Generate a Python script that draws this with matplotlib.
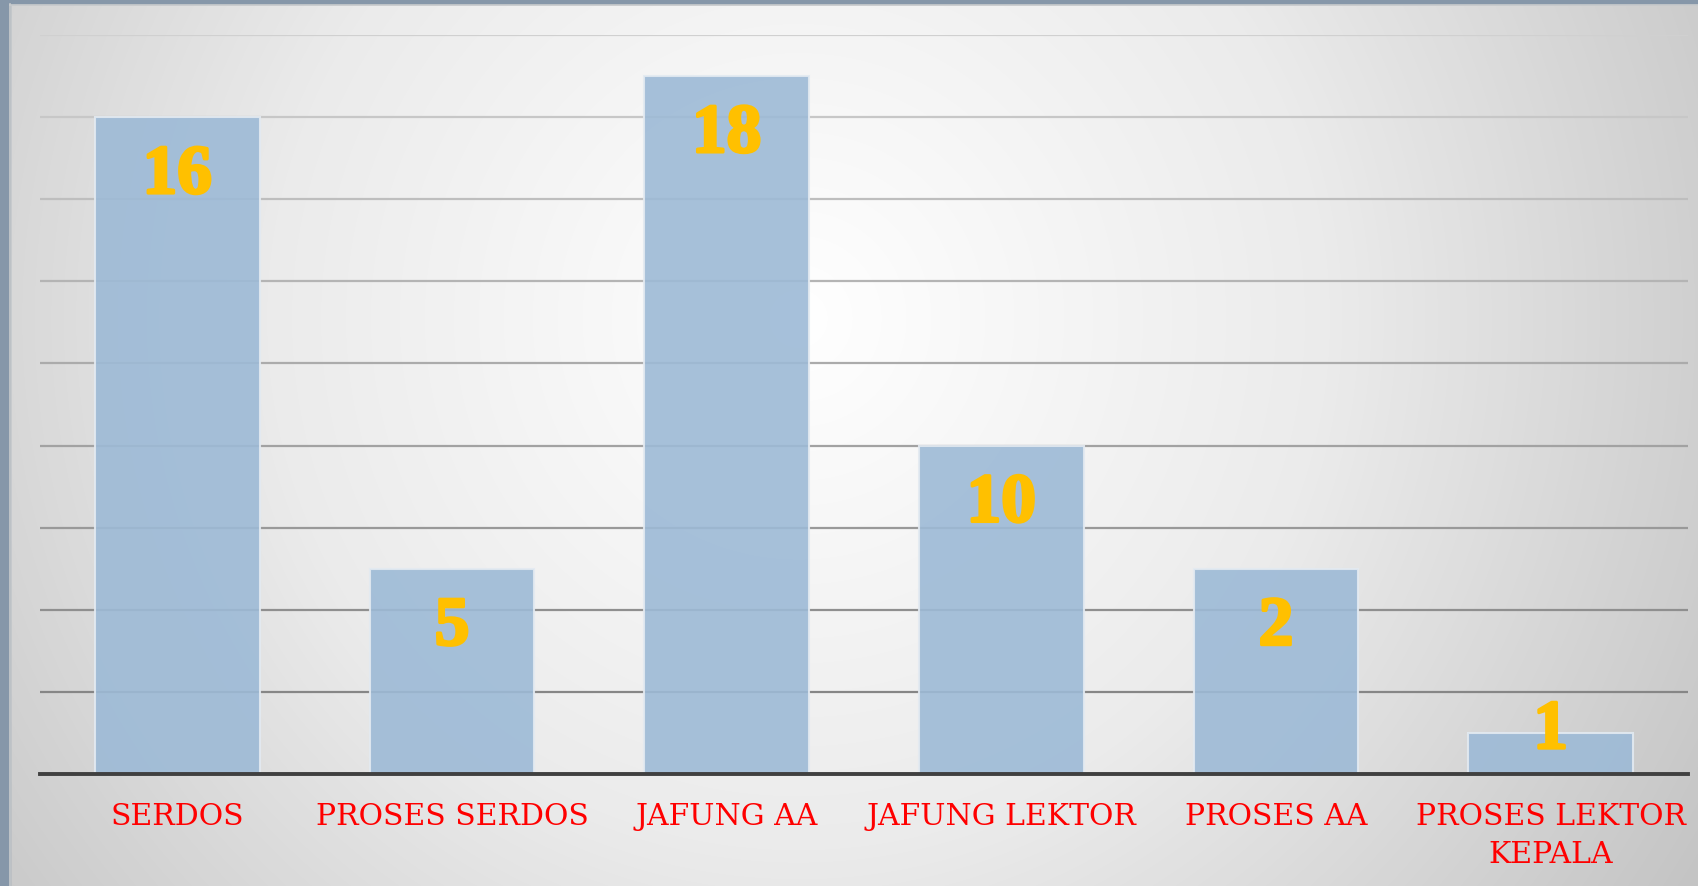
import numpy as np
import matplotlib

matplotlib.use("Agg")
import matplotlib.pyplot as plt
import matplotlib.patheffects as pe
from matplotlib.colors import LinearSegmentedColormap, to_rgb

categories = ["SERDOS", "PROSES SERDOS", "JAFUNG AA", "JAFUNG LEKTOR", "PROSES AA",
              "PROSES LEKTOR\nKEPALA"]
bar_heights = [16, 5, 17, 8, 5, 1]
value_labels = ["16", "5", "18", "10", "2", "1"]

W, H, DPI = 1698, 887, 100
fig = plt.figure(figsize=(W / DPI, H / DPI), dpi=DPI)

# radial grey-to-white backdrop
bg = fig.add_axes([0, 0, 1, 1], zorder=0)
yy, xx = np.mgrid[0:H, 0:W]
cx, cy = 0.47 * W, 0.36 * H
r = np.sqrt(((xx - cx) / (0.6 * W)) ** 2 + ((yy - cy) / (0.6 * W)) ** 2)
r = np.clip(r / r.max(), 0, 1)
cmap = LinearSegmentedColormap.from_list("bg", ["#ffffff", "#ebebeb", "#c4c4c4"])
bg.imshow(r, cmap=cmap, aspect="auto", extent=[0, W, H, 0], vmin=0, vmax=1)
# frame strips on left and top
bg.fill_between([0, 10], 0, H, color="#8697a9")
bg.fill_between([0, W], 0, 5, color="#8697a9")
bg.plot([10.5, 10.5], [5, H], color="#c9cbcd", lw=1.2)
bg.plot([10, W], [5.5, 5.5], color="#c9cbcd", lw=1.2)
bg.set_xlim(0, W)
bg.set_ylim(H, 0)
bg.axis("off")

left, right, bottom, top = 40, 1688, 775, 36
ax = fig.add_axes([left / W, 1 - bottom / H, (right - left) / W, (bottom - top) / H], zorder=1)
ax.patch.set_alpha(0)
x = np.arange(len(categories))
ax.set_xlim(-0.5, len(categories) - 0.5)
ax.set_ylim(0, 18)

grid_levels = np.arange(2, 19, 2)
dark, light = np.array(to_rgb("#868686")), np.array(to_rgb("#d0d0d0"))
for lvl in grid_levels:
    t = (lvl - 2) / 16
    ax.axhline(lvl, color=tuple(dark + (light - dark) * t), lw=1.6, zorder=1)

ax.bar(x, bar_heights, width=0.6, color="#9dbad6", alpha=0.9,
       edgecolor="#e3eaf1", linewidth=1.5, zorder=2)
ax.axhline(0, color="#404040", lw=2.8, zorder=3, clip_on=False)

# value labels sit just inside the bar top, kept above the baseline for short bars
heavy = [pe.withStroke(linewidth=2.2, foreground="#ffc000")]
for xi, h, lab in zip(x, bar_heights, value_labels):
    ypos = max(h - 1.85, 0.63)
    ax.text(xi, ypos, lab, ha="center", va="baseline", color="#ffc000",
            fontsize=50, fontweight="bold", family="Liberation Serif", zorder=4,
            path_effects=heavy)

ax.set_xticks(x)
ax.set_xticklabels(categories, color="#ff0000", fontsize=21.5, family="DejaVu Serif",
                   linespacing=1.45)
ax.tick_params(axis="x", length=0, pad=20)
ax.set_yticks([])
for s in ax.spines.values():
    s.set_visible(False)

fig.savefig("out.png", dpi=DPI)
